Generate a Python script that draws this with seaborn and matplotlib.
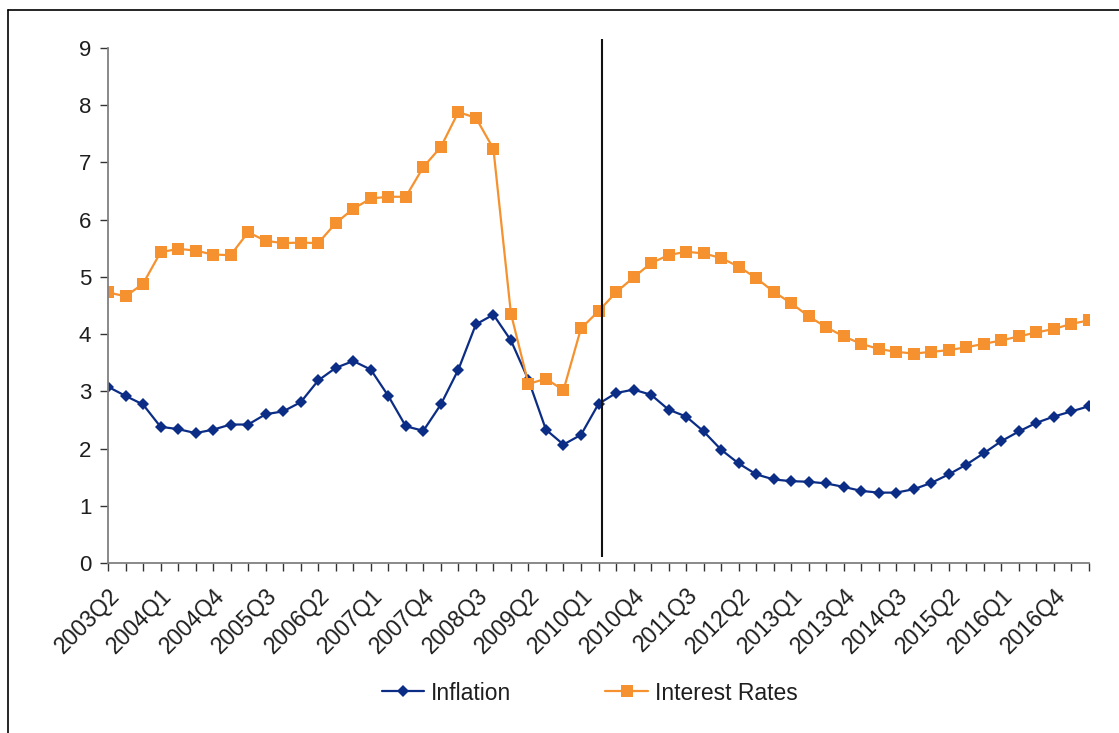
import matplotlib
matplotlib.use('Agg')
import matplotlib.pyplot as plt
import seaborn as sns
import pandas as pd
from matplotlib.lines import Line2D

# Quarters 2003Q2 .. 2017Q2
quarters = []
for year in range(2003, 2018):
    for q in range(1, 5):
        quarters.append(f"{year}Q{q}")
quarters = quarters[1:58]

inflation = [3.08, 2.92, 2.77, 2.38, 2.34, 2.27, 2.33, 2.42, 2.42, 2.60,
             2.65, 2.81, 3.19, 3.41, 3.53, 3.38, 2.92, 2.39, 2.31, 2.77,
             3.38, 4.17, 4.34, 3.89, 3.20, 2.33, 2.07, 2.24, 2.78, 2.97,
             3.03, 2.94, 2.68, 2.56, 2.30, 1.98, 1.74, 1.55, 1.46, 1.43,
             1.42, 1.39, 1.33, 1.26, 1.23, 1.23, 1.29, 1.40, 1.55, 1.72,
             1.92, 2.13, 2.30, 2.45, 2.56, 2.65, 2.74]

interest_rates = [4.73, 4.66, 4.88, 5.43, 5.49, 5.46, 5.39, 5.38, 5.78, 5.63,
                  5.59, 5.60, 5.59, 5.94, 6.19, 6.37, 6.40, 6.40, 6.92, 7.27,
                  7.88, 7.78, 7.24, 4.36, 3.13, 3.22, 3.02, 4.10, 4.40, 4.73,
                  4.99, 5.24, 5.38, 5.44, 5.41, 5.33, 5.18, 4.98, 4.74, 4.54,
                  4.31, 4.12, 3.96, 3.83, 3.74, 3.69, 3.66, 3.69, 3.72, 3.77,
                  3.83, 3.89, 3.96, 4.03, 4.09, 4.18, 4.24]

yticks = list(range(0, 10))
break_pos = 28.2  # vertical marker just after 2010Q2

df = pd.DataFrame({'idx': range(len(quarters)), 'quarter': quarters,
                   'Inflation': inflation, 'Interest Rates': interest_rates})

BLUE = '#0B2D85'
ORANGE = '#F5922F'
TXT = '#1e1e1e'

sns.set_theme(style='white')
plt.rcParams['font.family'] = ['Liberation Sans', 'DejaVu Sans']

fig = plt.figure(figsize=(11.19, 7.33), dpi=100)
ax = fig.add_axes([108 / 1119, 1 - 563 / 733, (1089 - 108) / 1119, (563 - 48) / 733])

sns.lineplot(data=df, x='idx', y='Inflation', ax=ax, color=BLUE, lw=1.6,
             marker='D', markersize=6.3, markeredgewidth=0, label='Inflation')
sns.lineplot(data=df, x='idx', y='Interest Rates', ax=ax, color=ORANGE, lw=1.6,
             marker='s', markersize=9, markeredgewidth=0, label='Interest Rates')

ax.vlines(break_pos, 0.1, 9.15, color='#111111', lw=1.5, clip_on=False)

ax.set_xlim(0, len(quarters) - 1)
ax.set_ylim(0, 9)
ax.set_yticks(yticks)
ax.set_yticklabels([str(t) for t in yticks], fontsize=16, color=TXT)
ax.set_xticks(range(len(quarters)))
ax.set_xticklabels([q if i % 3 == 0 else '' for i, q in enumerate(quarters)],
                   rotation=45, ha='right', rotation_mode='anchor',
                   fontsize=16.5, color=TXT)
ax.set_xlabel('')
ax.set_ylabel('')

for s in ['top', 'right']:
    ax.spines[s].set_visible(False)
for s in ['left', 'bottom']:
    ax.spines[s].set_color('#808080')
    ax.spines[s].set_linewidth(1.3)
ax.tick_params(axis='both', direction='out', length=6, width=1, color='#333333',
               left=True, bottom=True)
ax.tick_params(axis='y', pad=6)
ax.tick_params(axis='x', pad=9)

handles, labels = ax.get_legend_handles_labels()
ax.legend(handles, labels, loc='center', bbox_to_anchor=(0.527, 1 - 693 / 733),
          bbox_transform=fig.transFigure, ncol=2, frameon=False, fontsize=16.5,
          labelcolor=TXT, handlelength=1.85, handletextpad=0.3, columnspacing=4.1)

# outer frame (top and left edges)
fig.add_artist(Line2D([8 / 1119, 8 / 1119], [0, 1 - 10 / 733], color='black', lw=1.2,
                      transform=fig.transFigure))
fig.add_artist(Line2D([8 / 1119, 1], [1 - 10 / 733, 1 - 10 / 733], color='black', lw=1.2,
                      transform=fig.transFigure))

fig.savefig('out.png', dpi=100)
